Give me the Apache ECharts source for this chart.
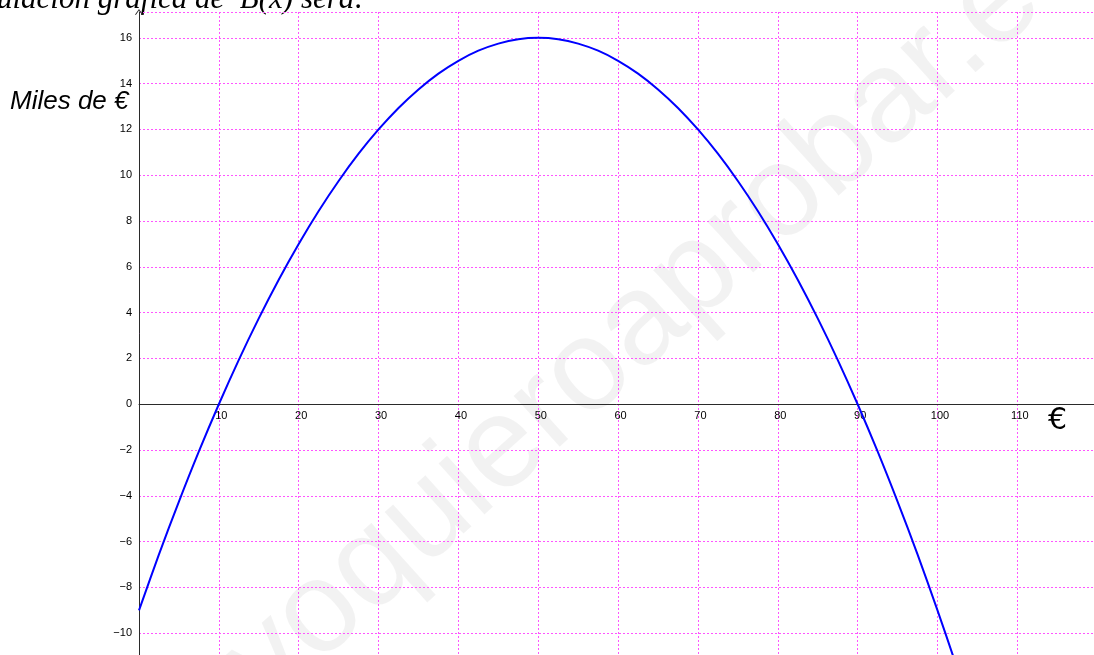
<!DOCTYPE html>
<html>
<head>
<meta charset="utf-8">
<title>B(x)</title>
<script type="text/javascript" src="https://cdn.jsdelivr.net/npm/echarts@6/dist/echarts.min.js"></script>
<style>
    html, body { margin: 0; padding: 0; background: #fff; }
    #stats-box { width: 1094px; height: 655px; }
</style>
</head>
<body>
<div id="stats-box"></div>
<script type="text/javascript">
    // puntos (precio en euros, miles de euros)
    var precios = [0, 2.5, 5, 7.5, 10, 12.5, 15, 17.5, 20, 22.5, 25, 27.5, 30, 32.5, 35, 37.5, 40, 42.5, 45, 47.5, 50,
        52.5, 55, 57.5, 60, 62.5, 65, 67.5, 70, 72.5, 75, 77.5, 80, 82.5, 85, 87.5, 90, 92.5, 95, 97.5, 100, 102.5];
    var beneficio = [-9, -6.56, -4.25, -2.06, 0, 1.94, 3.75, 5.44, 7, 8.44, 9.75, 10.94, 12, 12.94, 13.75, 14.44, 15, 15.44, 15.75, 15.94, 16,
        15.94, 15.75, 15.44, 15, 14.44, 13.75, 12.94, 12, 10.94, 9.75, 8.44, 7, 5.44, 3.75, 1.94, 0, -2.06, -4.25, -6.56, -9, -11.56];

    // marcas de los ejes
    var ticksX = [10, 20, 30, 40, 50, 60, 70, 80, 90, 100, 110];
    var ticksY = [-10, -8, -6, -4, -2, 0, 2, 4, 6, 8, 10, 12, 14, 16];

    var puntos = [];
    for (var i = 0; i < precios.length; i++) {
        puntos.push([precios[i], beneficio[i]]);
    }

    function conMenos(v) {
        return v < 0 ? '\u2212' + (-v) : '' + v;
    }

    var myChart = echarts.init(document.getElementById('stats-box'));

    // eje y: de -12 a 17.13, 22.9 px por unidad; el cero queda a 274.8 px del borde inferior
    var option = {
        animation: false,
        grid: {
            left: 139,
            right: 0,
            top: 12,
            bottom: -24,
            containLabel: false,
            outerBoundsMode: 'none'
        },
        xAxis: {
            type: 'value',
            min: 0,
            max: 119.6,
            interval: 10,
            position: 'bottom',
            offset: -274.8,
            axisLine: {
                onZero: false,
                lineStyle: { color: '#2a2a2a', width: 1 }
            },
            axisTick: { show: false },
            axisLabel: {
                margin: 6,
                padding: [0, 0, 0, 5],
                showMinLabel: false,
                showMaxLabel: false,
                color: '#000',
                fontFamily: 'Liberation Sans',
                fontSize: 11,
                formatter: function (v) {
                    return ticksX.indexOf(v) > -1 ? conMenos(v) : '';
                }
            },
            splitLine: {
                show: true,
                lineStyle: { color: '#ff55ff', width: 1, type: [2, 2] }
            }
        },
        yAxis: {
            type: 'value',
            min: -12,
            max: 17.13,
            interval: 2,
            axisLine: {
                show: true,
                onZero: false,
                symbol: ['none', 'path://M0,0 L5,7 L4,7.6 L0,1.8 L-4,7.6 L-5,7 Z'],
                symbolSize: [8, 6],
                lineStyle: { color: '#2a2a2a', width: 1 }
            },
            axisTick: { show: false },
            axisLabel: {
                margin: 7,
                showMaxLabel: false,
                color: '#000',
                fontFamily: 'Liberation Sans',
                fontSize: 11,
                formatter: function (v) {
                    return ticksY.indexOf(v) > -1 ? conMenos(v) : '';
                }
            },
            splitLine: {
                show: true,
                lineStyle: { color: '#ff55ff', width: 1, type: [2, 2] }
            }
        },
        graphic: [
            {
                // marca de agua
                type: 'text',
                x: 658,
                y: 310,
                rotation: 0.733,
                z: -10,
                silent: true,
                style: {
                    text: 'yoquieroaprobar.es',
                    font: '130px "Liberation Sans"',
                    fill: 'rgba(0,0,0,0.05)',
                    align: 'center',
                    verticalAlign: 'middle'
                }
            },
            {
                type: 'text',
                x: -3,
                y: 0,
                style: {
                    text: 'ulación gráfica de  B(x) será:',
                    font: 'italic 31px "Liberation Serif"',
                    fill: '#000',
                    align: 'left',
                    verticalAlign: 'middle'
                }
            },
            {
                type: 'text',
                x: 10,
                y: 102,
                style: {
                    text: 'Miles de €',
                    font: 'italic 26px "Liberation Sans"',
                    fill: '#000',
                    align: 'left',
                    verticalAlign: 'middle'
                }
            },
            {
                type: 'text',
                x: 1048,
                y: 421,
                style: {
                    text: '€',
                    font: '30px "DejaVu Sans"',
                    fill: '#000',
                    align: 'left',
                    verticalAlign: 'middle'
                }
            }
        ],
        series: [
            {
                name: 'B(x)',
                type: 'line',
                data: puntos,
                smooth: 0.3,
                showSymbol: false,
                lineStyle: { color: '#0000ff', width: 2 },
                z: 5
            }
        ]
    };

    myChart.setOption(option);
</script>
</body>
</html>
